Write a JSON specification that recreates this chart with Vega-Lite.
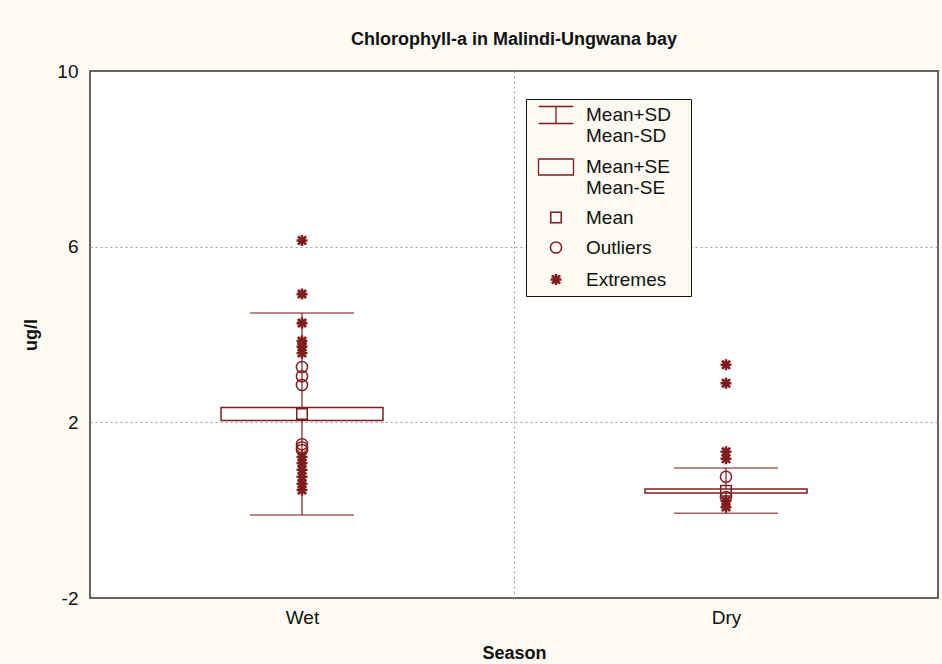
{
  "$schema": "https://vega.github.io/schema/vega-lite/v6.json",
  "width": 848,
  "height": 527,
  "autosize": {"type": "none"},
  "padding": {"left": 90, "top": 71, "right": 4, "bottom": 66},
  "background": "#FDFAF3",
  "title": {
    "text": "Chlorophyll-a in Malindi-Ungwana bay",
    "font": "Liberation Sans",
    "fontSize": 18,
    "fontWeight": "bold",
    "color": "#111111",
    "anchor": "middle",
    "offset": 13
  },
  "config": {
    "view": {"stroke": "#333333", "strokeWidth": 1.5, "fill": "white"},
    "axis": {
      "labelFont": "Liberation Sans",
      "labelFontSize": 19,
      "labelColor": "#111111",
      "titleFont": "Liberation Sans",
      "titleFontSize": 18,
      "titleFontWeight": "bold",
      "titleColor": "#111111",
      "ticks": false,
      "domain": false,
      "gridColor": "#9a9a9a",
      "gridDash": [2, 3],
      "gridWidth": 1
    },
    "legend": {
      "labelFont": "Liberation Sans",
      "labelFontSize": 19,
      "labelColor": "#111111",
      "labelLimit": 0
    }
  },
  "datasets": {
    "summary": [
      {"Season": "Wet", "mean": 2.19, "sdlo": -0.11, "sdhi": 4.49, "selo": 2.04, "sehi": 2.34},
      {"Season": "Dry", "mean": 0.44, "sdlo": -0.07, "sdhi": 0.96, "selo": 0.39, "sehi": 0.48}
    ],
    "points": [
      {"Season": "Wet", "value": 2.19, "kind": "Mean"},
      {"Season": "Dry", "value": 0.44, "kind": "Mean"},
      {"Season": "Wet", "value": 3.26, "kind": "Outliers"},
      {"Season": "Wet", "value": 3.05, "kind": "Outliers"},
      {"Season": "Wet", "value": 2.85, "kind": "Outliers"},
      {"Season": "Wet", "value": 1.5, "kind": "Outliers"},
      {"Season": "Wet", "value": 1.43, "kind": "Outliers"},
      {"Season": "Wet", "value": 1.37, "kind": "Outliers"},
      {"Season": "Dry", "value": 0.76, "kind": "Outliers"},
      {"Season": "Dry", "value": 0.3, "kind": "Outliers"},
      {"Season": "Wet", "value": 6.14, "kind": "Extremes"},
      {"Season": "Wet", "value": 4.92, "kind": "Extremes"},
      {"Season": "Wet", "value": 4.26, "kind": "Extremes"},
      {"Season": "Wet", "value": 3.85, "kind": "Extremes"},
      {"Season": "Wet", "value": 3.72, "kind": "Extremes"},
      {"Season": "Wet", "value": 3.58, "kind": "Extremes"},
      {"Season": "Wet", "value": 1.21, "kind": "Extremes"},
      {"Season": "Wet", "value": 1.07, "kind": "Extremes"},
      {"Season": "Wet", "value": 0.92, "kind": "Extremes"},
      {"Season": "Wet", "value": 0.76, "kind": "Extremes"},
      {"Season": "Wet", "value": 0.6, "kind": "Extremes"},
      {"Season": "Wet", "value": 0.46, "kind": "Extremes"},
      {"Season": "Dry", "value": 3.31, "kind": "Extremes"},
      {"Season": "Dry", "value": 2.89, "kind": "Extremes"},
      {"Season": "Dry", "value": 1.33, "kind": "Extremes"},
      {"Season": "Dry", "value": 1.17, "kind": "Extremes"},
      {"Season": "Dry", "value": 0.21, "kind": "Extremes"},
      {"Season": "Dry", "value": 0.07, "kind": "Extremes"}
    ]
  },
  "encoding": {
    "x": {
      "field": "Season",
      "type": "nominal",
      "sort": ["Wet", "Dry"],
      "scale": {"paddingInner": 0, "paddingOuter": 0},
      "axis": {
        "title": "Season",
        "labelAngle": 0,
        "grid": true,
        "tickBand": "extent",
        "gridOpacity": {"condition": {"test": "datum.value == 'Wet'", "value": 1}, "value": 0},
        "labelPadding": 10,
        "titlePadding": 17
      }
    }
  },
  "layer": [
    {
      "data": {"name": "summary"},
      "mark": {"type": "rule", "color": "#7f1d1d", "strokeWidth": 1.2},
      "encoding": {
        "y": {
          "field": "sdlo",
          "type": "quantitative",
          "scale": {"domain": [-2, 10], "nice": false, "zero": false},
          "axis": {
            "title": "ug/l",
            "values": [-2, 2, 6, 10],
            "grid": true,
            "gridOpacity": {"condition": {"test": "datum.value == 2 || datum.value == 6", "value": 1}, "value": 0},
            "labelExpr": "replace(datum.label, '−', '-')",
            "labelPadding": 12,
            "titlePadding": 16
          }
        },
        "y2": {"field": "sdhi"}
      }
    },
    {
      "data": {"name": "summary"},
      "mark": {"type": "tick", "color": "#7f1d1d", "size": 104, "thickness": 1.5},
      "encoding": {"y": {"field": "sdhi", "type": "quantitative"}}
    },
    {
      "data": {"name": "summary"},
      "mark": {"type": "tick", "color": "#7f1d1d", "size": 104, "thickness": 1.5},
      "encoding": {"y": {"field": "sdlo", "type": "quantitative"}}
    },
    {
      "data": {"name": "summary"},
      "mark": {"type": "bar", "width": 162, "fill": "white", "stroke": "#7f1d1d", "strokeWidth": 1.5},
      "encoding": {
        "y": {"field": "selo", "type": "quantitative"},
        "y2": {"field": "sehi"}
      }
    },
    {
      "data": {"name": "points"},
      "mark": {"type": "point", "filled": false, "color": "#7f1d1d", "opacity": 1},
      "encoding": {
        "y": {"field": "value", "type": "quantitative"},
        "shape": {
          "field": "kind",
          "type": "nominal",
          "scale": {
            "domain": ["Mean+SD|Mean-SD", "Mean+SE|Mean-SE", "Mean", "Outliers", "Extremes"],
            "range": [
              "M-1.75,-0.85H1.75M0,-0.85V0.85M-1.75,0.85H1.75",
              "M-1.75,-0.8H1.75V0.8H-1.75Z",
              "square",
              "circle",
              "M-1,0H1M0,-1V1M-0.75,-0.75L0.75,0.75M-0.75,0.75L0.75,-0.75"
            ]
          },
          "legend": {
            "title": null,
            "orient": "none",
            "legendX": 436,
            "legendY": 28,
            "strokeColor": "#111111",
            "fillColor": "#FDFAF3",
            "padding": 5,
            "symbolOffset": 14,
            "labelOffset": 19,
            "rowPadding": 10,
            "labelExpr": "split(replace(datum.label, '|', '\u2800|') + '\u2800', '|')"
          }
        },
        "size": {
          "field": "kind",
          "type": "nominal",
          "scale": {
            "type": "ordinal",
            "domain": ["Mean+SD|Mean-SD", "Mean+SE|Mean-SE", "Mean", "Outliers", "Extremes"],
            "range": [400, 400, 110, 125, 120]
          }
        },
        "strokeWidth": {
          "field": "kind",
          "type": "nominal",
          "scale": {
            "type": "ordinal",
            "domain": ["Mean+SD|Mean-SD", "Mean+SE|Mean-SE", "Mean", "Outliers", "Extremes"],
            "range": [1.3, 1.3, 1.5, 1.5, 2.6]
          }
        }
      }
    }
  ]
}
